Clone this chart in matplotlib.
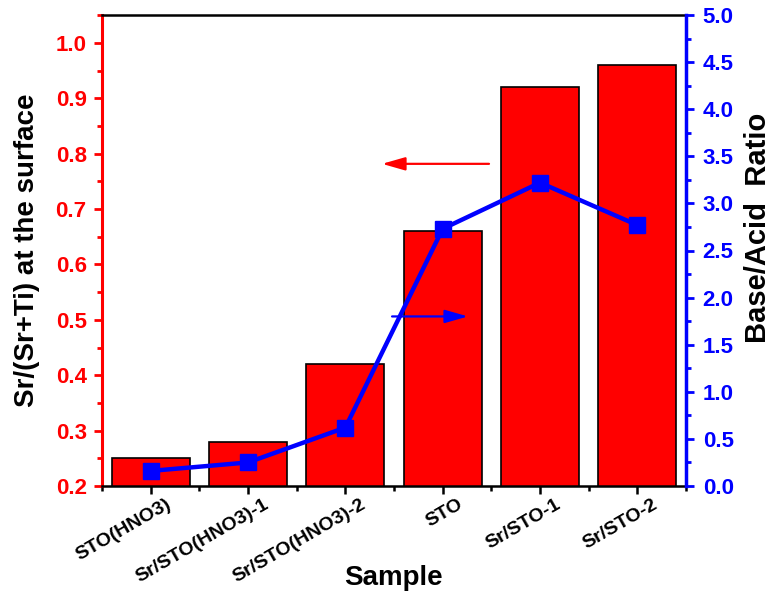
import matplotlib
matplotlib.use("Agg")
import matplotlib.pyplot as plt
from matplotlib.ticker import MultipleLocator, FixedLocator
from matplotlib.transforms import ScaledTranslation

plt.rcParams['font.family'] = ['Liberation Sans', 'DejaVu Sans']
plt.rcParams['font.weight'] = 'bold'

samples = ["STO(HNO3)", "Sr/STO(HNO3)-1", "Sr/STO(HNO3)-2", "STO", "Sr/STO-1", "Sr/STO-2"]
sr_ratio = [0.25, 0.28, 0.42, 0.66, 0.92, 0.96]
base_acid = [0.16, 0.25, 0.62, 2.73, 3.22, 2.77]

fig = plt.figure(figsize=(7.75, 5.96), dpi=100)
ax = fig.add_axes([102/775, 1-486/596, 584/775, 471/596])
x = list(range(len(samples)))
ax.bar(x, sr_ratio, width=0.8, color='#ff0000', edgecolor='black', linewidth=1.2, zorder=2)
ax.set_xlim(-0.5, 5.5)
ax.set_ylim(0.2, 1.0505)

ax2 = ax.twinx()
ax2.plot(x, base_acid, color='#0000ff', linewidth=3.2, marker='s', markersize=12, zorder=3)
ax2.set_ylim(0, 5.0)

# left axis styling
ax.yaxis.set_major_locator(MultipleLocator(0.1))
ax.yaxis.set_minor_locator(MultipleLocator(0.05))
ax.tick_params(axis='y', which='major', colors='red', labelcolor='red', length=6, width=2, labelsize=16, direction='out', pad=5)
ax.tick_params(axis='y', which='minor', colors='red', length=3.5, width=2, direction='out')
ax.spines['left'].set_color('red')
ax.spines['left'].set_linewidth(2.2)
ax.spines['right'].set_visible(False)
ax.spines['top'].set_linewidth(1.8)
ax.spines['bottom'].set_linewidth(1.8)

# x axis
ax.set_xticks(x)
ax.xaxis.set_minor_locator(FixedLocator([i + 0.5 for i in range(-1, 6)]))
ax.tick_params(axis='x', which='major', length=6, width=1.8, direction='out', pad=1)
ax.tick_params(axis='x', which='minor', length=3.5, width=1.8, direction='out')
ax.set_xticklabels(samples, rotation=30, ha='right', va='top', rotation_mode='anchor', fontsize=14, fontweight='bold')
offset = ScaledTranslation(15/100, 0, fig.dpi_scale_trans)
for lbl in ax.get_xticklabels():
    lbl.set_transform(lbl.get_transform() + offset)

# right axis styling
ax2.yaxis.set_major_locator(MultipleLocator(0.5))
ax2.yaxis.set_minor_locator(MultipleLocator(0.25))
ax2.tick_params(axis='y', which='major', colors='blue', labelcolor='blue', length=6, width=2, labelsize=16, direction='out', pad=6)
ax2.tick_params(axis='y', which='minor', colors='blue', length=3.5, width=2, direction='out')
ax2.spines['right'].set_color('blue')
ax2.spines['right'].set_linewidth(2.5)
ax2.spines['left'].set_visible(False)
ax2.spines['top'].set_visible(False)
ax2.spines['bottom'].set_visible(False)

for lbl in ax.get_yticklabels() + ax2.get_yticklabels():
    lbl.set_fontweight('bold')

ax.set_ylabel("Sr/(Sr+Ti) at the surface", fontsize=20, fontweight='bold')
ax.yaxis.label.set_va('center')
ax.yaxis.set_label_coords((27-102)/584, 0.5)
ax2.set_ylabel("Base/Acid  Ratio", fontsize=21, fontweight='bold')
ax2.yaxis.label.set_va('center')
ax2.yaxis.set_label_coords((758-102)/584, 0.549)
ax.set_xlabel("Sample", fontsize=20, fontweight='bold')
ax.xaxis.label.set_va('baseline')
ax.xaxis.set_label_coords((393-102)/584, -(585-486)/471)

# arrows indicating axes
ap = dict(arrowstyle='-|>,head_length=1.4,head_width=0.4', mutation_scale=10, lw=1.6, shrinkA=0, shrinkB=0)
ax2.annotate("", xy=(2.377, 3.42), xytext=(3.476, 3.42),
             arrowprops=dict(ap, color='red'))
ax2.annotate("", xy=(3.26, 1.80), xytext=(2.48, 1.80),
             arrowprops=dict(ap, color='blue'))

fig.savefig("out.png", dpi=100)
